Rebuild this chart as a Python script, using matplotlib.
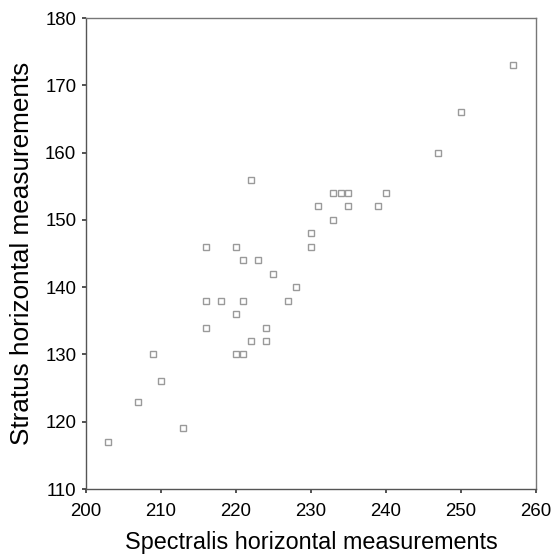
import numpy as np
import matplotlib
matplotlib.use("Agg")
import matplotlib.pyplot as plt

plt.rcParams['font.family'] = ['Liberation Sans', 'DejaVu Sans']

# Spectralis vs Stratus horizontal measurements
spectralis = [257, 250, 247, 222, 233, 234, 235, 240, 231, 235, 239, 233,
              230, 230, 216, 220, 221, 223, 225, 228, 216, 218, 221, 227,
              220, 216, 224, 222, 224, 209, 220, 221, 210, 207, 213, 203]
stratus = [173, 166, 160, 156, 154, 154, 154, 154, 152, 152, 152, 150,
           148, 146, 146, 146, 144, 144, 142, 140, 138, 138, 138, 138,
           136, 134, 134, 132, 132, 130, 130, 130, 126, 123, 119, 117]

xticks = [200, 210, 220, 230, 240, 250, 260]
yticks = [110, 120, 130, 140, 150, 160, 170, 180]

fig = plt.figure(figsize=(5.54, 5.54), dpi=100)
ax = fig.add_axes([0.1552, 0.1173, 0.8123, 0.850])

ax.plot(spectralis, stratus, linestyle='none', marker='s', markersize=4.5,
        markerfacecolor='white', markeredgecolor='#9a9a9a', markeredgewidth=1.0)

ax.set_xlim(200, 260)
ax.set_ylim(110, 180)
ax.set_xticks(xticks)
ax.set_yticks(yticks)
ax.tick_params(direction='out', length=3, width=1.2, color='#333333',
               labelsize=13.4)
ax.tick_params(axis='x', pad=7)
ax.tick_params(axis='y', pad=4)

for side in ['left', 'bottom']:
    ax.spines[side].set_color('#555555')
    ax.spines[side].set_linewidth(1.0)
for side in ['top', 'right']:
    ax.spines[side].set_color('#777777')
    ax.spines[side].set_linewidth(1.0)

ax.set_xlabel('Spectralis horizontal measurements', fontsize=16.8, labelpad=8)
ax.set_ylabel('Stratus horizontal measurements', fontsize=18.8, labelpad=8)

fig.savefig('out.png', dpi=100)
